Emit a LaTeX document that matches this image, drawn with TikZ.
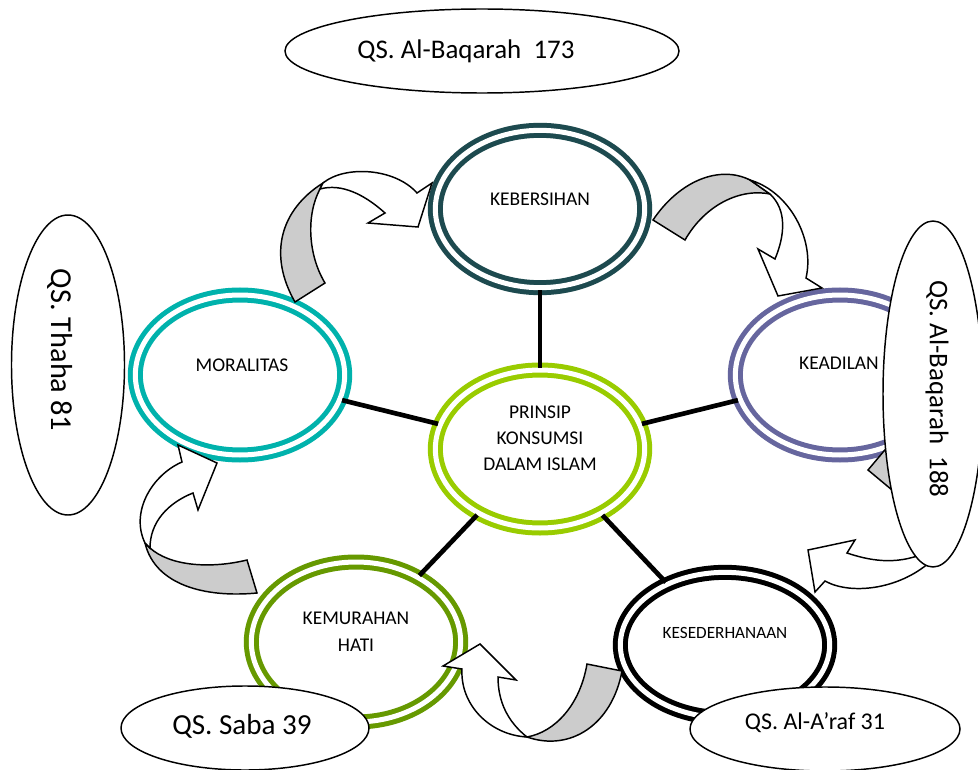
\documentclass[tikz,border=0pt]{standalone}
\usepackage{fontspec}
\setmainfont{Carlito}
\usetikzlibrary{shapes.geometric}
\definecolor{cBersih}{HTML}{1D4A4F}
\definecolor{cMoral}{HTML}{00B2AC}
\definecolor{cAdil}{HTML}{66669E}
\definecolor{cPrinsip}{HTML}{99CC00}
\definecolor{cMurah}{HTML}{669900}
\definecolor{abu}{HTML}{CCCCCC}

\begin{document}
\begin{tikzpicture}[x=0.75pt,y=-0.75pt,
        ring/.style={ellipse,draw=#1,line width=3.75pt,double=white,double distance=3.75pt,
                minimum width=157pt,minimum height=120pt,inner sep=0pt},
        ayat/.style={ellipse,draw,fill=white,line width=1.1pt,inner sep=0pt},
        judul/.style={font=\fontsize{14.6}{20}\selectfont,align=center,inner sep=0pt},
        qs/.style={font=\fontsize{#1}{#1}\selectfont,inner sep=0pt},
        garis/.style={line width=3.5pt},
        punggung/.style={draw,fill=abu,line width=1.1pt},
        muka/.style={draw,fill=white,line width=1.1pt}]
        \useasboundingbox[fill=white] (0,0) rectangle (978,770);

        \node[ring=cBersih,minimum height=118pt] (bersih) at (540,209) {};
        \node[ring=cMoral] (moral) at (240,375) {};
        \node[ring=cAdil] (adil) at (840,375) {};
        \node[ring=cPrinsip,minimum height=118.5pt] (pusat) at (540,449) {};
        \node[ring=cMurah] (murah) at (356,642) {};
        \node[ring=black,minimum height=109pt] (sederhana) at (725,645) {};

        \draw[garis] (pusat) -- (bersih);
        \draw[garis] (pusat) -- (moral);
        \draw[garis] (pusat) -- (adil);
        \draw[garis] (pusat) -- (murah);
        \draw[garis] (pusat) -- (sederhana);

        \node[judul] (t-bersih) at (540,199) {KEBERSIHAN};
        \node[judul] (t-moral) at (242,365) {MORALITAS};
        \node[judul] (t-adil) at (839,363) {KEADILAN};
        \node[judul,font=\fontsize{14.6}{19.5}\selectfont] (t-pusat) at (540,438) {PRINSIP\\KONSUMSI\\DALAM ISLAM};
        \node[judul] (t-murah) at (356,632) {KEMURAHAN\\HATI};
        \node[judul,font=\fontsize{12.9}{16}\selectfont] (t-sederhana) at (725,633) {KESEDERHANAAN};

        \draw[punggung] (295,302) .. controls (268,255) and (280,210) .. (323,183) -- (320,189) .. controls (306,215) and (308,255) .. (325,283) -- cycle;
        \draw[muka] (323,183) .. controls (345,165) and (395,168) .. (417,193) -- (432,183) -- (418,227) -- (368,223) -- (385,213) .. controls (365,195) and (342,183) .. (320,189) -- cycle;

        \draw[punggung] (653,220) .. controls (680,180) and (720,165) .. (750,180) -- (770,194) .. controls (740,188) and (705,205) .. (685,240) -- cycle;
        \draw[muka] (750,180) .. controls (790,192) and (815,240) .. (806,278) -- (822,288) -- (778,296) -- (758,249) -- (775,259) .. controls (785,235) and (787,210) .. (770,194) -- cycle;

        \draw[punggung] (900,432) -- (868,470) -- (910,505) -- (930,470) -- cycle;
        \draw[muka] (925,553) .. controls (895,566) and (868,560) .. (847,553) -- (855,540) -- (808,550) -- (815,592) -- (825,581) .. controls (850,595) and (898,590) .. (930,562) -- cycle;

        \draw[punggung] (587,664) -- (622,671) .. controls (612,725) and (570,752) .. (527,737) .. controls (555,732) and (580,705) .. (587,664) -- cycle;
        \draw[muka] (527,737) .. controls (490,735) and (460,705) .. (462,669) -- (443,666) -- (480,644) -- (516,680) -- (498,677) .. controls (498,702) and (508,722) .. (527,737) -- cycle;

        \draw[punggung] (247,560) -- (257,593) .. controls (205,598) and (155,585) .. (145,543) -- (150,548) .. controls (170,566) and (210,569) .. (247,560) -- cycle;
        \draw[muka] (145,543) .. controls (130,512) and (152,475) .. (182,462) -- (178,445) -- (217,463) -- (198,510) -- (193,493) .. controls (168,503) and (150,522) .. (150,548) -- cycle;

        \node[ayat,minimum width=295.5pt,minimum height=63pt] (baqarah173) at (482,51) {};
        \node[ayat,minimum width=75pt,minimum height=259.5pt] (baqarah188) at (933,394) {};
        \node[ayat,minimum width=84.75pt,minimum height=225pt] (thaha) at (68,365) {};
        \node[ayat,minimum width=186pt,minimum height=63pt] (saba) at (245,728) {};
        \node[ayat,minimum width=202.5pt,minimum height=63pt] (araf) at (825,729) {};

        \node[qs=20.2] (t-baqarah173) at (466,51) {QS. Al-Baqarah\ \ 173};
        \node[qs=20.2,rotate=-90] (t-baqarah188) at (937,389) {QS. Al-Baqarah\ \ 188};
        \node[qs=22.8,rotate=-90] (t-thaha) at (60,350) {QS. Thaha 81};
        \node[qs=21.8] (t-saba) at (242,726) {QS. Saba 39};
        \node[qs=18] (t-araf) at (815,723) {QS. Al-A’raf 31};
\end{tikzpicture}
\end{document}
